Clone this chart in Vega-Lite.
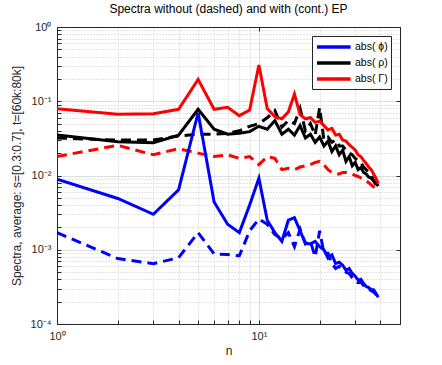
{
  "$schema": "https://vega.github.io/schema/vega-lite/v6.json",
  "width": 343,
  "height": 297,
  "autosize": {"type": "none"},
  "padding": {"left": 57, "top": 27, "right": 42, "bottom": 41},
  "title": {"text": "Spectra without (dashed) and with (cont.) EP", "font": "Liberation Sans", "fontSize": 12, "fontWeight": "normal", "color": "#000000", "offset": 5},
  "datasets": {
    "with": [
      {"n": 1, "phi": 0.0089, "rho": 0.035, "gam": 0.079},
      {"n": 2, "phi": 0.0049, "rho": 0.0285, "gam": 0.067},
      {"n": 3, "phi": 0.003, "rho": 0.0277, "gam": 0.068},
      {"n": 4, "phi": 0.0064, "rho": 0.035, "gam": 0.078},
      {"n": 5, "phi": 0.07, "rho": 0.078, "gam": 0.197},
      {"n": 6, "phi": 0.0044, "rho": 0.042, "gam": 0.078},
      {"n": 7, "phi": 0.0022, "rho": 0.036, "gam": 0.083},
      {"n": 8, "phi": 0.0017, "rho": 0.037, "gam": 0.064},
      {"n": 9, "phi": 0.004, "rho": 0.039, "gam": 0.076},
      {"n": 10, "phi": 0.0092, "rho": 0.046, "gam": 0.308},
      {"n": 11, "phi": 0.0025, "rho": 0.042, "gam": 0.08},
      {"n": 12, "phi": 0.0017, "rho": 0.055, "gam": 0.062},
      {"n": 13, "phi": 0.0013, "rho": 0.036, "gam": 0.058},
      {"n": 14, "phi": 0.0025, "rho": 0.042, "gam": 0.072},
      {"n": 15, "phi": 0.0027, "rho": 0.035, "gam": 0.125},
      {"n": 16, "phi": 0.0018, "rho": 0.047, "gam": 0.066},
      {"n": 17, "phi": 0.00122, "rho": 0.032, "gam": 0.058},
      {"n": 18, "phi": 0.0012, "rho": 0.036, "gam": 0.06},
      {"n": 19, "phi": 0.0013, "rho": 0.028, "gam": 0.052},
      {"n": 20, "phi": 0.0011, "rho": 0.033, "gam": 0.054},
      {"n": 21, "phi": 0.001, "rho": 0.025, "gam": 0.047},
      {"n": 22, "phi": 0.00077, "rho": 0.029, "gam": 0.041},
      {"n": 23, "phi": 0.00085, "rho": 0.021, "gam": 0.043},
      {"n": 24, "phi": 0.00065, "rho": 0.025, "gam": 0.035},
      {"n": 25, "phi": 0.00068, "rho": 0.019, "gam": 0.036},
      {"n": 26, "phi": 0.00062, "rho": 0.022, "gam": 0.03},
      {"n": 27, "phi": 0.00053, "rho": 0.0155, "gam": 0.029},
      {"n": 28, "phi": 0.00056, "rho": 0.018, "gam": 0.026},
      {"n": 29, "phi": 0.00048, "rho": 0.0135, "gam": 0.024},
      {"n": 30, "phi": 0.00044, "rho": 0.015, "gam": 0.022},
      {"n": 31, "phi": 0.00039, "rho": 0.012, "gam": 0.019},
      {"n": 32, "phi": 0.0004, "rho": 0.0128, "gam": 0.018},
      {"n": 33, "phi": 0.00035, "rho": 0.011, "gam": 0.016},
      {"n": 34, "phi": 0.00032, "rho": 0.0105, "gam": 0.0145},
      {"n": 35, "phi": 0.00031, "rho": 0.0095, "gam": 0.013},
      {"n": 36, "phi": 0.00029, "rho": 0.0092, "gam": 0.012},
      {"n": 37, "phi": 0.00029, "rho": 0.0085, "gam": 0.0105},
      {"n": 38, "phi": 0.00026, "rho": 0.008, "gam": 0.0092},
      {"n": 39, "phi": 0.00023, "rho": 0.0072, "gam": 0.0078}
    ],
    "without": [
      {"n": 1, "phi": 0.0017, "rho": 0.032, "gam": 0.018},
      {"n": 2, "phi": 0.00076, "rho": 0.03, "gam": 0.0255},
      {"n": 3, "phi": 0.00065, "rho": 0.03, "gam": 0.019},
      {"n": 4, "phi": 0.00078, "rho": 0.034, "gam": 0.023},
      {"n": 5, "phi": 0.0017, "rho": 0.036, "gam": 0.02},
      {"n": 6, "phi": 0.00088, "rho": 0.036, "gam": 0.018},
      {"n": 7, "phi": 0.00086, "rho": 0.037, "gam": 0.019},
      {"n": 8, "phi": 0.00083, "rho": 0.04, "gam": 0.017},
      {"n": 9, "phi": 0.0018, "rho": 0.046, "gam": 0.018},
      {"n": 10, "phi": 0.0026, "rho": 0.05, "gam": 0.014},
      {"n": 11, "phi": 0.0022, "rho": 0.06, "gam": 0.018},
      {"n": 12, "phi": 0.0016, "rho": 0.075, "gam": 0.017},
      {"n": 13, "phi": 0.0014, "rho": 0.045, "gam": 0.012},
      {"n": 14, "phi": 0.0017, "rho": 0.055, "gam": 0.0125},
      {"n": 15, "phi": 0.0011, "rho": 0.05, "gam": 0.012},
      {"n": 16, "phi": 0.0019, "rho": 0.08, "gam": 0.013},
      {"n": 17, "phi": 0.0012, "rho": 0.04, "gam": 0.0135},
      {"n": 18, "phi": 0.0013, "rho": 0.05, "gam": 0.014},
      {"n": 19, "phi": 0.0008, "rho": 0.035, "gam": 0.015},
      {"n": 20, "phi": 0.0018, "rho": 0.082, "gam": 0.0155},
      {"n": 21, "phi": 0.0009, "rho": 0.03, "gam": 0.014},
      {"n": 22, "phi": 0.0009, "rho": 0.033, "gam": 0.012},
      {"n": 23, "phi": 0.00065, "rho": 0.028, "gam": 0.011},
      {"n": 24, "phi": 0.00056, "rho": 0.03, "gam": 0.0105},
      {"n": 25, "phi": 0.0006, "rho": 0.025, "gam": 0.0105},
      {"n": 26, "phi": 0.00055, "rho": 0.025, "gam": 0.011},
      {"n": 27, "phi": 0.0005, "rho": 0.022, "gam": 0.011},
      {"n": 28, "phi": 0.00048, "rho": 0.02, "gam": 0.0108},
      {"n": 29, "phi": 0.00042, "rho": 0.019, "gam": 0.0105},
      {"n": 30, "phi": 0.00038, "rho": 0.017, "gam": 0.01},
      {"n": 31, "phi": 0.00036, "rho": 0.016, "gam": 0.0097},
      {"n": 32, "phi": 0.00037, "rho": 0.015, "gam": 0.0093},
      {"n": 33, "phi": 0.00033, "rho": 0.013, "gam": 0.009},
      {"n": 34, "phi": 0.0003, "rho": 0.012, "gam": 0.0085},
      {"n": 35, "phi": 0.0003, "rho": 0.011, "gam": 0.008},
      {"n": 36, "phi": 0.00028, "rho": 0.01, "gam": 0.0075},
      {"n": 37, "phi": 0.00027, "rho": 0.0085, "gam": 0.007},
      {"n": 38, "phi": 0.00025, "rho": 0.0075, "gam": 0.0065},
      {"n": 39, "phi": 0.00022, "rho": 0.0065, "gam": 0.006}
    ]
  },
  "layer": [
    {
      "data": {"name": "without"},
      "transform": [{"fold": ["phi", "rho", "gam"], "as": ["var", "v"]}],
      "mark": {"type": "line", "strokeWidth": 3, "strokeDash": [10, 6], "clip": true},
      "encoding": {
        "x": {"field": "n", "type": "quantitative", "scale": {"type": "log", "domain": [1, 50], "nice": false},
          "axis": {"orient": "bottom", "title": "n", "values": [1,2,3,4,5,6,7,8,9,10,20,30,40],
            "labelExpr": "datum.value == 1 ? '10⁰' : datum.value == 10 ? '10¹' : ''",
            "labelOverlap": false, "labelFlush": false, "grid": true, "gridDash": [1, 2], "gridColor": "#c8c8c8", "gridWidth": 1,
            "tickSize": -4, "labelPadding": 10, "titlePadding": 4}},
        "y": {"field": "v", "type": "quantitative", "scale": {"type": "log", "domain": [0.0001, 1], "nice": false},
          "axis": {"orient": "left", "title": "Spectra, average: s=[0.3:0.7], t=[60k:80k]",
            "values": [0.0001,0.0002,0.0003,0.0004,0.0005,0.0006,0.0007,0.0008,0.0009,0.001,0.002,0.003,0.004,0.005,0.006,0.007,0.008,0.009,0.01,0.02,0.03,0.04,0.05,0.06,0.07,0.08,0.09,0.1,0.2,0.3,0.4,0.5,0.6,0.7,0.8,0.9,1],
            "labelExpr": "datum.value == 1 ? '10⁰' : datum.value == 0.1 ? '10⁻¹' : datum.value == 0.01 ? '10⁻²' : datum.value == 0.001 ? '10⁻³' : datum.value == 0.0001 ? '10⁻⁴' : ''",
            "labelOverlap": false, "labelFlush": false, "grid": true, "gridDash": [1, 2], "gridColor": "#c8c8c8", "gridWidth": 1,
            "tickSize": -4, "labelPadding": 10, "titlePadding": 7}},
        "color": {"field": "var", "type": "nominal",
          "scale": {"domain": ["phi", "rho", "gam"], "range": ["#0000ff", "#000000", "#ff0000"]},
          "legend": {"title": null, "orient": "top-right", "offset": 9,
            "labelExpr": "datum.label == 'phi' ? 'abs( ϕ)' : datum.label == 'rho' ? 'abs( ρ)' : 'abs( Γ)'",
            "symbolType": "M-1,0H4.6", "symbolSize": 144, "symbolStrokeWidth": 3.5, "symbolDash": [],
            "labelOffset": 24, "labelFontSize": 10.5, "labelFont": "Liberation Sans", "labelColor": "#000000",
            "fillColor": "#ffffff", "strokeColor": "#262626", "padding": 3, "rowPadding": 1}}
      }
    },
    {
      "data": {"name": "with"},
      "transform": [{"fold": ["phi", "rho", "gam"], "as": ["var", "v"]}],
      "mark": {"type": "line", "strokeWidth": 3, "clip": true},
      "encoding": {
        "x": {"field": "n", "type": "quantitative", "scale": {"type": "log", "domain": [1, 50], "nice": false},
          "axis": {"orient": "top", "title": null, "values": [1, 10], "labels": false,
            "grid": true, "gridColor": "#dedede", "gridWidth": 1, "tickSize": -4}},
        "y": {"field": "v", "type": "quantitative", "scale": {"type": "log", "domain": [0.0001, 1], "nice": false},
          "axis": {"orient": "right", "title": null, "values": [0.0001, 0.001, 0.01, 0.1, 1], "labels": false,
            "grid": true, "gridColor": "#dedede", "gridWidth": 1, "tickSize": -4}},
        "color": {"field": "var", "type": "nominal",
          "scale": {"domain": ["phi", "rho", "gam"], "range": ["#0000ff", "#000000", "#ff0000"]},
          "legend": {"title": null, "orient": "top-right", "offset": 9,
            "labelExpr": "datum.label == 'phi' ? 'abs( ϕ)' : datum.label == 'rho' ? 'abs( ρ)' : 'abs( Γ)'",
            "symbolType": "M-1,0H4.6", "symbolSize": 144, "symbolStrokeWidth": 3.5, "symbolDash": [],
            "labelOffset": 24, "labelFontSize": 10.5, "labelFont": "Liberation Sans", "labelColor": "#000000",
            "fillColor": "#ffffff", "strokeColor": "#262626", "padding": 3, "rowPadding": 1}}
      }
    }
  ],
  "resolve": {"axis": {"x": "independent", "y": "independent"}},
  "config": {
    "view": {"stroke": "#262626", "strokeWidth": 1},
    "axis": {"labelFont": "Liberation Sans", "titleFont": "Liberation Sans", "labelFontSize": 11, "titleFontSize": 12,
      "labelColor": "#262626", "titleColor": "#262626", "titleFontWeight": "normal",
      "domainColor": "#262626", "tickColor": "#262626", "tickWidth": 1}
  }
}
